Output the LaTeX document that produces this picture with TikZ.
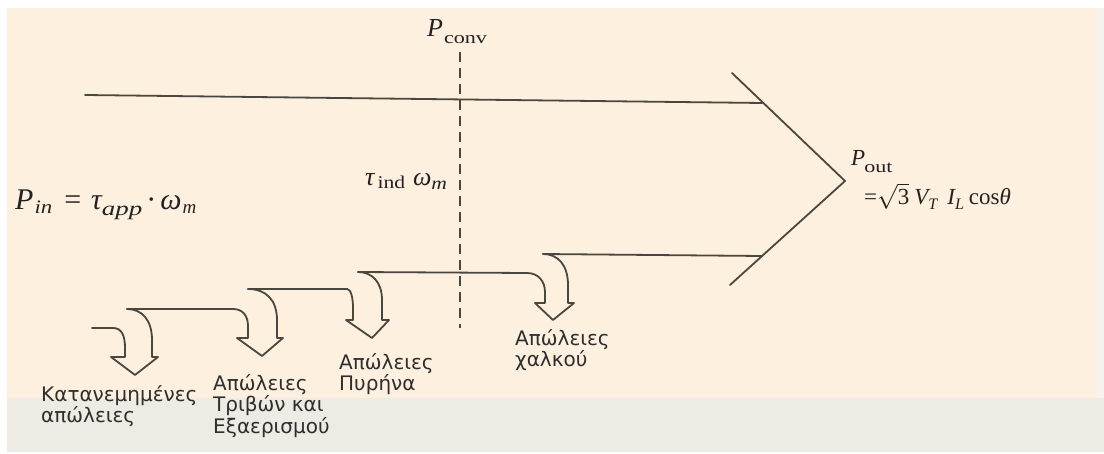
\documentclass[tikz,border=0pt]{standalone}
\usepackage{fontspec}
\setmainfont{Liberation Serif}
\newfontfamily\grfont{DejaVu Sans}
\usepackage{graphicx}
\definecolor{peach}{HTML}{FDF0DF}
\definecolor{greyband}{HTML}{EDEBE3}
\definecolor{rightband}{HTML}{F7F3EA}
\definecolor{ln}{HTML}{4A4740}
\definecolor{txt}{HTML}{2E2E2E}
\definecolor{eqc}{HTML}{222222}
\begin{document}
\begin{tikzpicture}[x=1pt,y=-1pt,
  flow/.style={draw=ln, line width=1.8pt, line join=round, line cap=round},
  dashline/.style={draw=ln, line width=1.8pt, dash pattern=on 10pt off 6pt},
  loss/.style={font=\grfont\fontsize{20}{21.5}\selectfont, text=txt, align=left, inner sep=0pt, anchor=north west},
  eq/.style={inner sep=0pt, anchor=base west, text=eqc}]
\useasboundingbox (0,0) rectangle (1104,454);
\fill[white] (0,0) rectangle (1104,454);
\fill[rightband] (1095,8) rectangle (1104,398);
\fill[greyband] (7,398) rectangle (1104,452);
\fill[peach] (7,8) rectangle (1095,398);

% main power band
\draw[flow] (85,95) -- (762,103);
\draw[flow] (732,73) -- (845,181) -- (730,285);
\draw[flow] (762,256) -- (543,254);

% dashed conversion line
\draw[dashline] (460,52) -- (460,328);

% loss arrow 1
\draw[flow] (92,328) -- (113,328) .. controls (122,328) and (125,336) .. (125,348) -- (125,357)
  -- (111,357) -- (135,375) -- (158,357) -- (152,357) -- (152,340)
  .. controls (152,320) and (142,309) .. (127,309);
% loss arrow 2
\draw[flow] (127,309) -- (233,309) .. controls (243,309) and (248,316) .. (248,326) -- (248,338)
  -- (237,338) -- (262,356) -- (283,338) -- (277,338) -- (277,320)
  .. controls (277,300) and (266,289) .. (248,289);
% loss arrow 3
\draw[flow] (248,289) -- (347,289) .. controls (351,289) and (353,298) .. (353,308) -- (353,320)
  -- (346,320) -- (372,338) -- (389,320) -- (382,320) -- (382,300)
  .. controls (382,282) and (372,272) .. (358,272);
% loss arrow 4
\draw[flow] (358,272) -- (527,273) .. controls (538,273) and (545,281) .. (545,292) -- (545,303)
  -- (535,303) -- (553,320) -- (574,303) -- (568,303) -- (568,285)
  .. controls (568,265) and (558,254) .. (543,254);

% labels
\node[loss] (l1) at (41,385) {Κατανεμημένες\\απώλειες};
\node[loss] (l2) at (213,374) {Απώλειες\\Τριβών και\\Εξαερισμού};
\node[loss] (l3) at (339,353) {Απώλειες\\Πυρήνα};
\node[loss] (l4) at (515,329) {Απώλειες\\χαλκού};

% equations
\node[eq] (pconv) at (427,37) {\fontsize{26}{26}\selectfont\itshape P\kern1pt\raisebox{-7pt}{\upshape\fontsize{17}{17}\selectfont\scalebox{1.3}[1]{conv}}};
\node[eq] (tind) at (365,186) {\fontsize{26}{26}\selectfont\itshape τ\kern3pt\raisebox{-3pt}{\upshape\fontsize{18}{18}\selectfont\scalebox{1.2}[1]{ind}}\kern8pt ω\raisebox{-4pt}{\fontsize{18}{18}\selectfont\scalebox{1.2}[1]{m}}};
\node[eq] (pin) at (15,210) {\fontsize{30}{30}\selectfont\itshape P\kern1pt\raisebox{-4pt}{\fontsize{19}{19}\selectfont\scalebox{1.2}[1]{in}}\kern12pt\upshape =\kern10pt\itshape τ\raisebox{-6pt}{\fontsize{20}{20}\selectfont\scalebox{1.35}[1]{app}}\kern4pt\upshape ·\kern4pt\itshape ω\kern1pt\raisebox{-4pt}{\fontsize{19}{19}\selectfont m}};
\node[eq] (pout) at (851,166) {\fontsize{23}{23}\selectfont\itshape P\kern-1pt\raisebox{-7pt}{\upshape\fontsize{17}{17}\selectfont\scalebox{1.3}[1]{out}}};
\node[eq] (pout2) at (864,205) {\fontsize{23}{23}\selectfont =$\sqrt{\mbox{3}}$\kern5pt\itshape V\raisebox{-5pt}{\fontsize{16}{16}\selectfont T}\kern10pt I\raisebox{-5pt}{\fontsize{16}{16}\selectfont L}\kern5pt\upshape cos\itshape θ};
\end{tikzpicture}
\end{document}
